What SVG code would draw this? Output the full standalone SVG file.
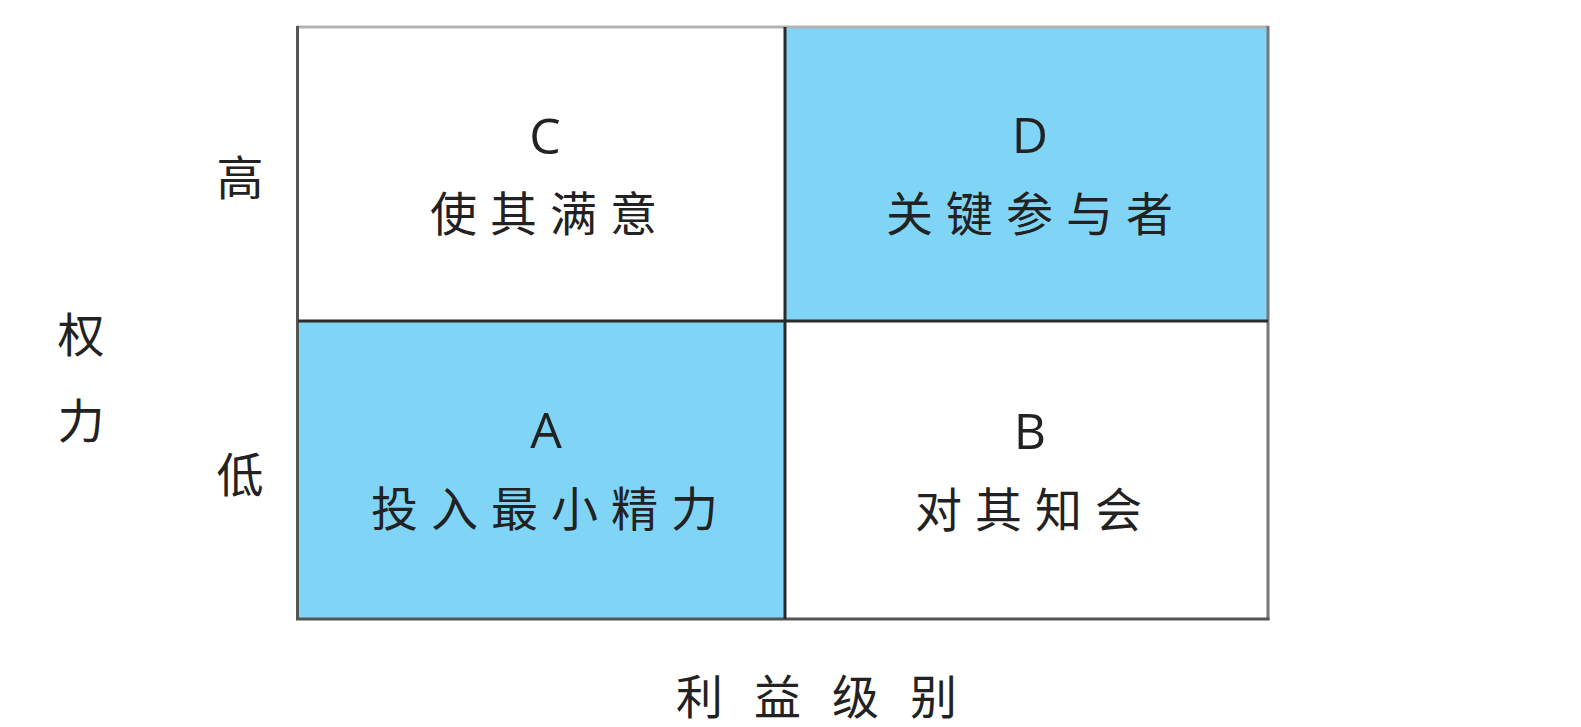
<svg xmlns="http://www.w3.org/2000/svg" width="1581" height="727" viewBox="0 0 1581 727">
<style>
.lat{font-family:"Open Sans","Noto Sans",sans-serif;font-size:50px;fill:#222;text-anchor:middle;dominant-baseline:central}
.cjk{font-family:"Noto Sans CJK SC","Noto Sans",sans-serif;font-size:47px;fill:#222;text-anchor:middle;dominant-baseline:central;letter-spacing:13px}
.ax{font-family:"Noto Sans CJK SC","Noto Sans",sans-serif;font-size:47px;fill:#222;text-anchor:middle;dominant-baseline:central}
.blue{fill:#80d5f6}
.white{fill:#ffffff}
</style>
<rect width="1581" height="727" fill="#ffffff"/>
<g id="cell-C">
<rect class="white" x="298" y="27" width="487" height="294"/>
<text class="lat" x="545" y="135">C</text>
<text class="cjk" x="550" y="210">使其满意</text>
</g>
<g id="cell-D">
<rect class="blue" x="785" y="27" width="483" height="294"/>
<text class="lat" x="1030" y="134">D</text>
<text class="cjk" x="1036" y="210">关键参与者</text>
</g>
<g id="cell-A">
<rect class="blue" x="298" y="321" width="487" height="297"/>
<text class="lat" x="546" y="429">A</text>
<text class="cjk" x="551" y="505">投入最小精力</text>
</g>
<g id="cell-B">
<rect class="white" x="785" y="321" width="483" height="297"/>
<text class="lat" x="1030" y="430">B</text>
<text class="cjk" x="1035" y="506">对其知会</text>
</g>
<g id="grid">
<line x1="297" y1="27" x2="1269" y2="27" stroke="#b3b3b3" stroke-width="3"/>
<line x1="297.5" y1="26" x2="297.5" y2="620" stroke="#555" stroke-width="3"/>
<line x1="1268" y1="26" x2="1268" y2="620" stroke="#777" stroke-width="3"/>
<line x1="296" y1="619" x2="1269.5" y2="619" stroke="#555" stroke-width="3"/>
<line x1="785" y1="27" x2="785" y2="619" stroke="#2b2b2b" stroke-width="3"/>
<line x1="298" y1="321" x2="1268" y2="321" stroke="#2b2b2b" stroke-width="3"/>
</g>
<g id="axis-labels">
<text class="ax" x="240" y="174">高</text>
<text class="ax" x="240" y="471">低</text>
<text class="ax" x="81" y="331">权</text>
<text class="ax" x="81" y="417">力</text>
<text class="cjk" x="832" y="693" style="letter-spacing:31px">利益级别</text>
</g>
</svg>
